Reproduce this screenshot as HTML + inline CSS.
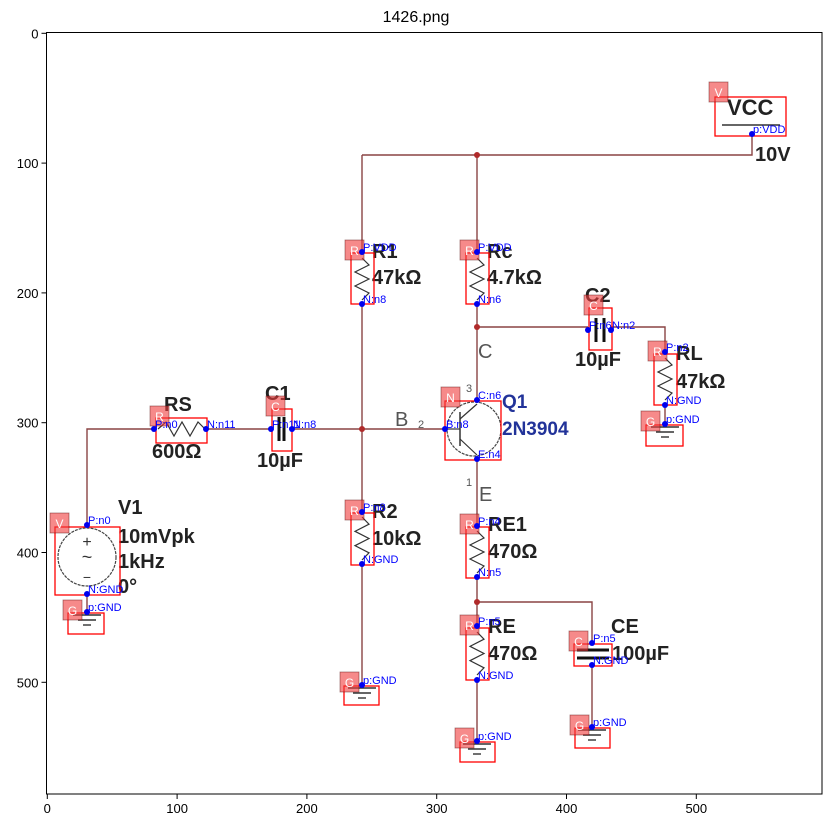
<!DOCTYPE html>
<html><head><meta charset="utf-8"><style>
html,body{margin:0;padding:0;background:#fff;}
svg{display:block;font-family:"Liberation Sans","DejaVu Sans",sans-serif;}
</style></head><body>
<svg id="fig" width="831" height="828" viewBox="0 0 831 828" xmlns="http://www.w3.org/2000/svg">
<rect x="0" y="0" width="831" height="828" fill="#fff"/>
<text x="416" y="22" font-size="16" text-anchor="middle" fill="#000">1426.png</text>
<g id="schem"></g>
<g id="axes"></g>
</svg>
<script>
const xTicks = [0, 100, 200, 300, 400, 500];
const yTicks = [0, 100, 200, 300, 400, 500];
const X0 = 47.3, Y0 = 33.3, S = 1.298;
function sx(v){ return X0 + v*S; }
function sy(v){ return Y0 + v*S; }
const NS = "http://www.w3.org/2000/svg";
const schem = document.getElementById('schem');
const axes = document.getElementById('axes');
function mk(parent, tag, attrs, name, txt){
  const el = document.createElementNS(NS, tag);
  for (const k in attrs) el.setAttribute(k, attrs[k]);
  
  
  if (txt !== undefined) el.textContent = txt;
  parent.appendChild(el);
  return el;
}
// wires
const W = "#8a4444";
const wires = [
 [[362,155],[752,155],[752,134]],
 [[362,155],[362,252]],
 [[477,155],[477,252]],
 [[362,304],[362,512]],
 [[362,564],[362,685]],
 [[477,304],[477,400]],
 [[477,327],[588,327]],
 [[611,327],[665,327],[665,352]],
 [[665,405],[665,424]],
 [[87,525],[87,429],[154,429]],
 [[206,429],[271,429]],
 [[292,429],[445,429]],
 [[87,594],[87,612]],
 [[477,459],[477,526]],
 [[477,577],[477,626]],
 [[477,602],[592,602],[592,643]],
 [[592,665],[592,727]],
 [[477,680],[477,741]]
];
wires.forEach(w=>{ mk(schem,'polyline',{points:w.map(p=>p.join(',')).join(' '),fill:'none',stroke:W,'stroke-width':1.4},'wire'); });
// junction dots
[[477,155],[362,429],[477,327],[477,602]].forEach(p=>mk(schem,'circle',{cx:p[0],cy:p[1],r:3,fill:'#b02a2a'},'junction'));
// resistors zigzags
function zig(x,y1,y2){ let pts=[[x,y1]]; const n=6, h=(y2-y1)/n; for(let i=1;i<n;i++) pts.push([x+(i%2?7:-7),y1+i*h]); pts.push([x,y2]);
  mk(schem,'polyline',{points:pts.map(p=>p.join(',')).join(' '),fill:'none',stroke:'#333','stroke-width':1.2},'resistor-symbol'); }
zig(362,258,300); zig(477,258,300); zig(362,517,560); zig(477,531,573); zig(477,632,675); zig(665,358,400);
// RS horizontal
(function(){ let pts=[[158,429]]; for(let i=1;i<6;i++) pts.push([158+i*8,429+(i%2?-7:7)]); pts.push([205,429]);
 mk(schem,'polyline',{points:pts.map(p=>p.join(',')).join(' '),fill:'none',stroke:'#333','stroke-width':1.2},'resistor-symbol');})();
// capacitors
[[279,284],[596,604]].forEach((c,i)=>{ const y= i? 330:429; c.forEach(x=>mk(schem,'line',{x1:x,y1:y-12,x2:x,y2:y+12,stroke:'#111','stroke-width':3},'capacitor-plate')); });
mk(schem,'line',{x1:577,y1:650,x2:609,y2:650,stroke:'#111','stroke-width':3},'capacitor-plate');
mk(schem,'line',{x1:577,y1:658,x2:609,y2:658,stroke:'#111','stroke-width':3},'capacitor-plate');
// VCC bar
mk(schem,'line',{x1:722,y1:125,x2:780,y2:125,stroke:'#333','stroke-width':1.5},'vcc-bar');
// V1 source
mk(schem,'circle',{cx:87,cy:557,r:29,fill:'none',stroke:'#444','stroke-width':1.2,'stroke-dasharray':'3,1'},'source-symbol');
mk(schem,'text',{x:87,y:547,'font-size':16,'text-anchor':'middle',fill:'#333'},'source-plus','+');
mk(schem,'text',{x:87,y:563,'font-size':18,'text-anchor':'middle',fill:'#333'},'source-tilde','~');
mk(schem,'text',{x:87,y:582,'font-size':14,'text-anchor':'middle',fill:'#333'},'source-minus','−');
// transistor
mk(schem,'circle',{cx:474,cy:429,r:27,fill:'none',stroke:'#444','stroke-width':1.2,'stroke-dasharray':'3,1'},'transistor-symbol');
mk(schem,'line',{x1:460,y1:412,x2:460,y2:446,stroke:'#333','stroke-width':1.5},'transistor-base');
mk(schem,'line',{x1:460,y1:419,x2:477,y2:404,stroke:'#333','stroke-width':1.2},'transistor-collector');
mk(schem,'line',{x1:460,y1:439,x2:477,y2:455,stroke:'#333','stroke-width':1.2},'transistor-emitter');
mk(schem,'line',{x1:445,y1:429,x2:460,y2:429,stroke:'#333','stroke-width':1.2},'transistor-base-lead');
// grounds
[[87,612],[362,685],[477,741],[592,727],[665,424]].forEach(g=>{
 [[14,0],[9,5],[4,10]].forEach((l,i)=>mk(schem,'line',{x1:g[0]-l[0],y1:g[1]+3+l[1],x2:g[0]+l[0],y2:g[1]+3+l[1],stroke:'#333','stroke-width':1.4},'ground-line'));
});
// labels black
const bl = [['R1',372,258,20],['47kΩ',372,284,20],['Rc',487,258,20],['4.7kΩ',487,284,20],['C2',585,302,20],['10µF',575,366,20],
 ['RL',676,360,20],['47kΩ',676,388,20],['VCC',727,115,22],['10V',755,161,20],['RS',164,411,20],['600Ω',152,458,20],
 ['C1',265,400,20],['10µF',257,467,20],['V1',118,514,20],['10mVpk',118,543,20],['1kHz',118,568,20],['0°',118,593,20],
 ['R2',372,518,20],['10kΩ',372,545,20],['RE1',488,531,20],['470Ω',488,558,20],['RE',488,633,20],['470Ω',488,660,20],
 ['CE',611,633,20],['100µF',612,660,20]];
bl.forEach(t=>mk(schem,'text',{x:t[1],y:t[2],'font-size':t[3],'font-weight':'bold',fill:'#222'},'component-label',t[0]));
mk(schem,'text',{x:502,y:408,'font-size':19,'font-weight':'bold',fill:'#223399'},'transistor-name','Q1');
mk(schem,'text',{x:502,y:435,'font-size':19,'font-weight':'bold',fill:'#223399'},'transistor-model','2N3904');
[['C',478,358,20],['B',395,426,20],['E',479,501,20],['2',418,428,11],['3',466,392,11],['1',466,486,11]].forEach(t=>
 mk(schem,'text',{x:t[1],y:t[2],'font-size':t[3],fill:'#555'},'terminal-label',t[0]));
// red boxes
const boxes=[[351,253,23,51],[466,253,23,51],[589,308,23,42],[654,354,23,51],[646,425,37,21],[715,97,71,39],[445,401,56,59],
 [156,418,51,25],[272,409,20,42],[55,527,65,68],[68,613,36,21],[351,513,23,52],[344,686,35,19],[466,527,23,51],[466,628,23,52],
 [460,742,35,20],[574,644,38,22],[575,728,35,20]];
boxes.forEach(b=>mk(schem,'rect',{x:b[0],y:b[1],width:b[2],height:b[3],fill:'none',stroke:'#f00','stroke-width':1.3},'component-box'));
// type squares
const sq=[['R',345,240],['R',460,240],['C',584,295],['R',648,341],['G',641,411],['V',709,82],['N',441,387],['R',150,406],['C',266,396],
 ['V',50,513],['G',63,600],['R',345,500],['G',340,672],['R',460,514],['R',460,615],['G',455,728],['C',569,631],['G',570,715]];
sq.forEach(s=>{ mk(schem,'rect',{x:s[1],y:s[2],width:19,height:20,fill:'rgba(240,60,60,0.6)',stroke:'rgba(80,0,0,0.5)','stroke-width':0.8},'type-badge');
 mk(schem,'text',{x:s[1]+9.5,y:s[2]+15,'font-size':12,'text-anchor':'middle',fill:'#fff'},'type-badge-letter',s[0]); });
// pins
const pins=[['P:VDD',362,252],['N:n8',362,304],['P:VDD',477,252],['N:n6',477,304],['P:n6',588,330],['N:n2',611,330],['P:n2',665,352],
 ['N:GND',665,405],['p:GND',665,424],['p:VDD',752,134],['C:n6',477,400],['B:n8',445,429],['E:n4',477,459],['P:n0',154,429],['N:n11',206,429],
 ['P:n11',271,429],['N:n8',292,429],['P:n0',87,525],['N:GND',87,594],['p:GND',87,612],['P:n8',362,512],['N:GND',362,564],['p:GND',362,685],
 ['P:n4',477,526],['N:n5',477,577],['P:n5',477,626],['N:GND',477,680],['p:GND',477,741],['P:n5',592,643],['N:GND',592,665],['p:GND',592,727]];
pins.forEach(p=>{ mk(schem,'circle',{cx:p[1],cy:p[2],r:3,fill:'#0000ee'},'pin-dot');
 mk(schem,'text',{x:p[1]+1,y:p[2]-1,'font-size':11,fill:'#0000ff'},'pin-label',p[0]); });
// axes frame
const L=46.5,T=32.5,R=822,B=794;
mk(axes,'rect',{x:L,y:T,width:R-L,height:B-T,fill:'none',stroke:'#000','stroke-width':1},'axes-frame');
xTicks.forEach(v=>{ const x=sx(v);
 mk(axes,'line',{x1:x,y1:B,x2:x,y2:B+5,stroke:'#000','stroke-width':1},'x-tick');
 mk(axes,'text',{x:x,y:B+19,'font-size':13,'text-anchor':'middle',fill:'#000'},'x-tick-label',String(v)); });
yTicks.forEach(v=>{ const y=sy(v);
 mk(axes,'line',{x1:L-5,y1:y,x2:L,y2:y,stroke:'#000','stroke-width':1},'y-tick');
 mk(axes,'text',{x:L-8,y:y+5,'font-size':13,'text-anchor':'end',fill:'#000'},'y-tick-label',String(v)); });
</script>
</body></html>
